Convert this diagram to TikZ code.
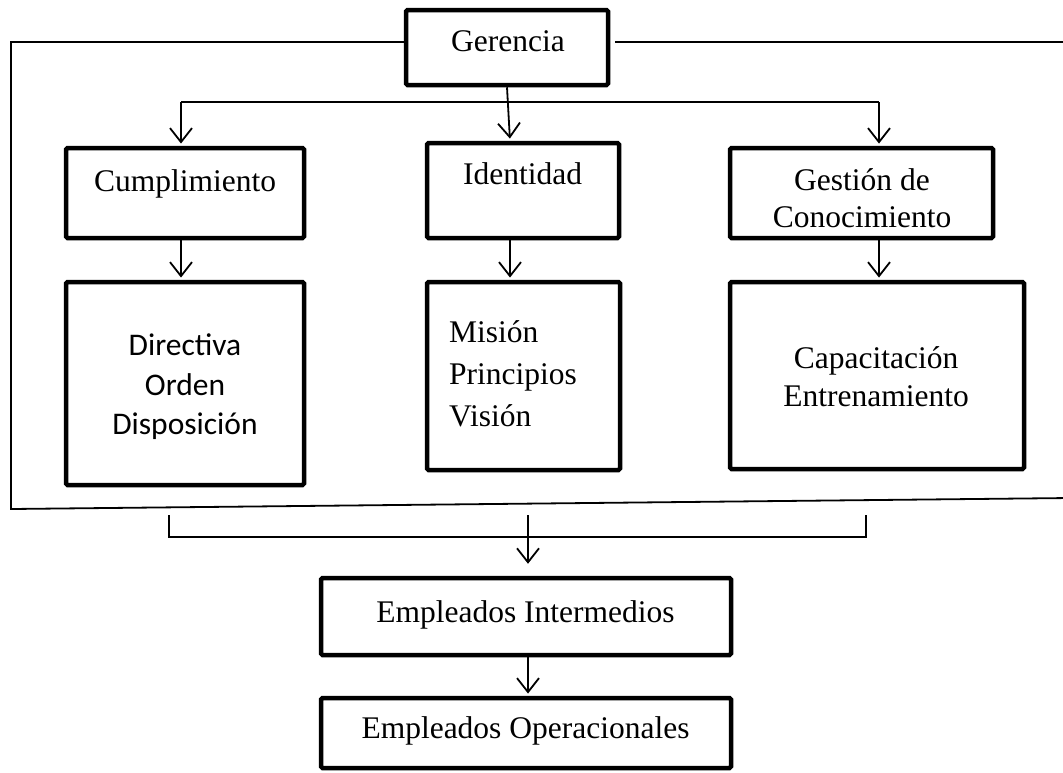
\documentclass[tikz,border=0pt]{standalone}
\usepackage{fontspec}
\setmainfont{Liberation Serif}
\newfontfamily\calibrifont{Carlito}
\usetikzlibrary{arrows.meta}

\begin{document}
\begin{tikzpicture}[x=1pt,y=-1pt,
  box/.style={draw, line width=4.5pt, rounded corners=1.5pt, inner sep=0pt},
  lbl/.style={anchor=base, inner sep=0pt, font=\fontsize{31.5}{38}\selectfont},
  lbls/.style={anchor=base, inner sep=0pt, font=\calibrifont\fontsize{31.5}{38}\selectfont},
  frame/.style={line width=1.8pt, line join=miter},
  arr/.style={line width=1.8pt, shorten >=2.2pt, -{Straight Barb[length=14pt, width=22pt]}}]

\useasboundingbox[fill=white] (0,0) rectangle (1063,772);

% boxes
\node[box, minimum width=202pt, minimum height=75pt] (ger) at (507,47.5) {};
\node[box, minimum width=238pt, minimum height=90pt] (cum) at (185,193) {};
\node[box, minimum width=192pt, minimum height=95pt] (ide) at (523,190.5) {};
\node[box, minimum width=263pt, minimum height=90pt] (ges) at (861.5,193) {};
\node[box, minimum width=238pt, minimum height=203pt] (dir) at (185,383.5) {};
\node[box, minimum width=193pt, minimum height=188pt] (mis) at (523.5,376) {};
\node[box, minimum width=294pt, minimum height=187pt] (cap) at (877,375.5) {};
\node[box, minimum width=410pt, minimum height=77pt] (emi) at (526,616.5) {};
\node[box, minimum width=410pt, minimum height=70pt] (emo) at (526,733) {};

% labels
\node[lbl] (gerT) at (508,51) {Gerencia};
\node[lbl] (cumT) at (185,191) {Cumplimiento};
\node[lbl] (ideT) at (522.5,184) {Identidad};
\node[lbl] (gesA) at (862,190) {Gestión de};
\node[lbl] (gesB) at (862,227) {Conocimiento};
\node[lbls] (dirA) at (185,355) {Directiva};
\node[lbls] (dirB) at (185,395) {Orden};
\node[lbls] (dirC) at (185,434) {Disposición};
\node[lbl, anchor=base west] (misA) at (449,342) {Misión};
\node[lbl, anchor=base west] (misB) at (449,384) {Principios};
\node[lbl, anchor=base west] (misC) at (449,426) {Visión};
\node[lbl] (capA) at (876,368) {Capacitación};
\node[lbl] (capB) at (876,406) {Entrenamiento};
\node[lbl] (emiT) at (525.5,622) {Empleados Intermedios};
\node[lbl] (emoT) at (525.5,738) {Empleados Operacionales};

% outer frame around the management level
\coordinate (ctl) at (11,42);
\coordinate (cbl) at (11,509);
\coordinate (cbr) at (1070,498);
\coordinate (ctr) at (1070,42);
\coordinate (gr) at ([xshift=5pt]ger.east);
\draw[frame] (ger.west |- ctl) -- (ctl) -- (cbl) -- (cbr);
\draw[frame] (gr |- ctr) -- (ctr);

% distribution from Gerencia
\coordinate (bl) at (181,102);
\coordinate (br) at (879,102);
\coordinate (cx) at (510,0);
\draw[frame] (bl) -- (br);
\draw[arr] (bl) -- (bl |- cum.north);
\draw[arr] (br) -- (br |- ges.north);
\draw[arr] (ger.south) -- (cx |- ide.north);

% second level
\draw[arr] (bl |- cum.south) -- (bl |- dir.north);
\draw[arr] (cx |- ide.south) -- (cx |- mis.north);
\draw[arr] (br |- ges.south) -- (br |- cap.north);

% bracket to the employees
\coordinate (kl) at (169,515);
\coordinate (kr) at (866,515);
\coordinate (ka) at (528,515);
\draw[frame] (kl) -- ++(0,22) -| (kr);
\draw[arr, shorten >=12pt] (ka) -- (ka |- emi.north);
\draw[arr] (ka |- emi.south) -- (ka |- emo.north);

\end{tikzpicture}
\end{document}
